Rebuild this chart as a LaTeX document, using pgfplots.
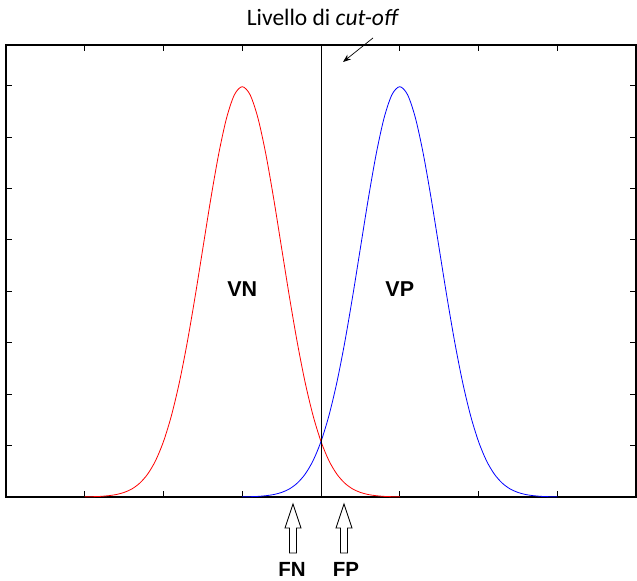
\documentclass[border=0pt]{standalone}
\usepackage{fontspec}
\setmainfont{Carlito}
\newfontfamily\labfont{Liberation Sans}
\usepackage{pgfplots}
\pgfplotsset{compat=1.18}
\usetikzlibrary{arrows.meta}
\pgfplotstableread{
x y
1.0 0.0003
1.1 0.0006
1.2 0.0012
1.3 0.0025
1.4 0.0048
1.5 0.0089
1.6 0.0158
1.7 0.0272
1.8 0.0448
1.9 0.0709
2.0 0.1080
2.1 0.1579
2.2 0.2218
2.3 0.2995
2.4 0.3884
2.5 0.4839
2.6 0.5794
2.7 0.6664
2.8 0.7365
2.9 0.7821
3.0 0.7979
3.1 0.7821
3.2 0.7365
3.3 0.6664
3.4 0.5794
3.5 0.4839
3.6 0.3884
3.7 0.2995
3.8 0.2218
3.9 0.1579
4.0 0.1080
4.1 0.0709
4.2 0.0448
4.3 0.0272
4.4 0.0158
4.5 0.0089
4.6 0.0048
4.7 0.0025
4.8 0.0012
4.9 0.0006
5.0 0.0003
}\negdata
\pgfplotstableread{
x y
3.0 0.0003
3.1 0.0006
3.2 0.0012
3.3 0.0025
3.4 0.0048
3.5 0.0089
3.6 0.0158
3.7 0.0272
3.8 0.0448
3.9 0.0709
4.0 0.1080
4.1 0.1579
4.2 0.2218
4.3 0.2995
4.4 0.3884
4.5 0.4839
4.6 0.5794
4.7 0.6664
4.8 0.7365
4.9 0.7821
5.0 0.7979
5.1 0.7821
5.2 0.7365
5.3 0.6664
5.4 0.5794
5.5 0.4839
5.6 0.3884
5.7 0.2995
5.8 0.2218
5.9 0.1579
6.0 0.1080
6.1 0.0709
6.2 0.0448
6.3 0.0272
6.4 0.0158
6.5 0.0089
6.6 0.0048
6.7 0.0025
6.8 0.0012
6.9 0.0006
7.0 0.0003
}\posdata
\begin{document}
\begin{tikzpicture}
\begin{axis}[
  at={(6bp,84bp)}, anchor=south west,
  scale only axis, width=630bp, height=452bp,
  xmin=0, xmax=8, ymin=0, ymax=0.879,
  xtick={1,2,3,4,5,6,7},
  ytick={0.1,0.2,0.3,0.4,0.5,0.6,0.7,0.8},
  xticklabels={}, yticklabels={},
  tick align=inside, major tick length=6bp,
  tick style={black, line width=0.8bp},
  axis line style={black, line width=1.2bp},
  clip=false,
]
\addplot[red, line width=0.8bp, smooth] table[x=x,y=y] {\negdata};
\addplot[blue, line width=0.8bp, smooth] table[x=x,y=y] {\posdata};
\draw[black, line width=0.9bp] (axis cs:4,0) -- (axis cs:4,0.879);
\node[font=\labfont\bfseries\fontsize{21.5bp}{24bp}\selectfont] at (axis cs:3,0.405) {VN};
\node[font=\labfont\bfseries\fontsize{21.5bp}{24bp}\selectfont] at (axis cs:5,0.405) {VP};
\end{axis}
\node[anchor=base, font=\fontsize{23.5bp}{27bp}\selectfont] at (323bp,555bp) {Livello di \textit{cut-off}};
\draw[line width=0.7bp, -{Stealth[length=8bp,width=6bp]}] (373bp,543bp) -- (343bp,519bp);
\foreach \xx in {293,344}{
  \draw[black, line width=0.8bp, fill=white]
    (\xx bp,77bp) -- (\xx bp+8bp,53bp) -- (\xx bp+3.5bp,53bp) -- (\xx bp+3.5bp,28bp)
    -- (\xx bp-3.5bp,28bp) -- (\xx bp-3.5bp,53bp) -- (\xx bp-8bp,53bp) -- cycle;
}
\node[inner sep=0pt, font=\labfont\bfseries\fontsize{20.5bp}{24bp}\selectfont, anchor=base] at (292bp,4.5bp) {FN};
\node[inner sep=0pt, font=\labfont\bfseries\fontsize{20.5bp}{24bp}\selectfont, anchor=base] at (346bp,4.5bp) {FP};
\pgfresetboundingbox
\path[use as bounding box] (0,0) rectangle (637bp,581bp);
\end{tikzpicture}
\end{document}
